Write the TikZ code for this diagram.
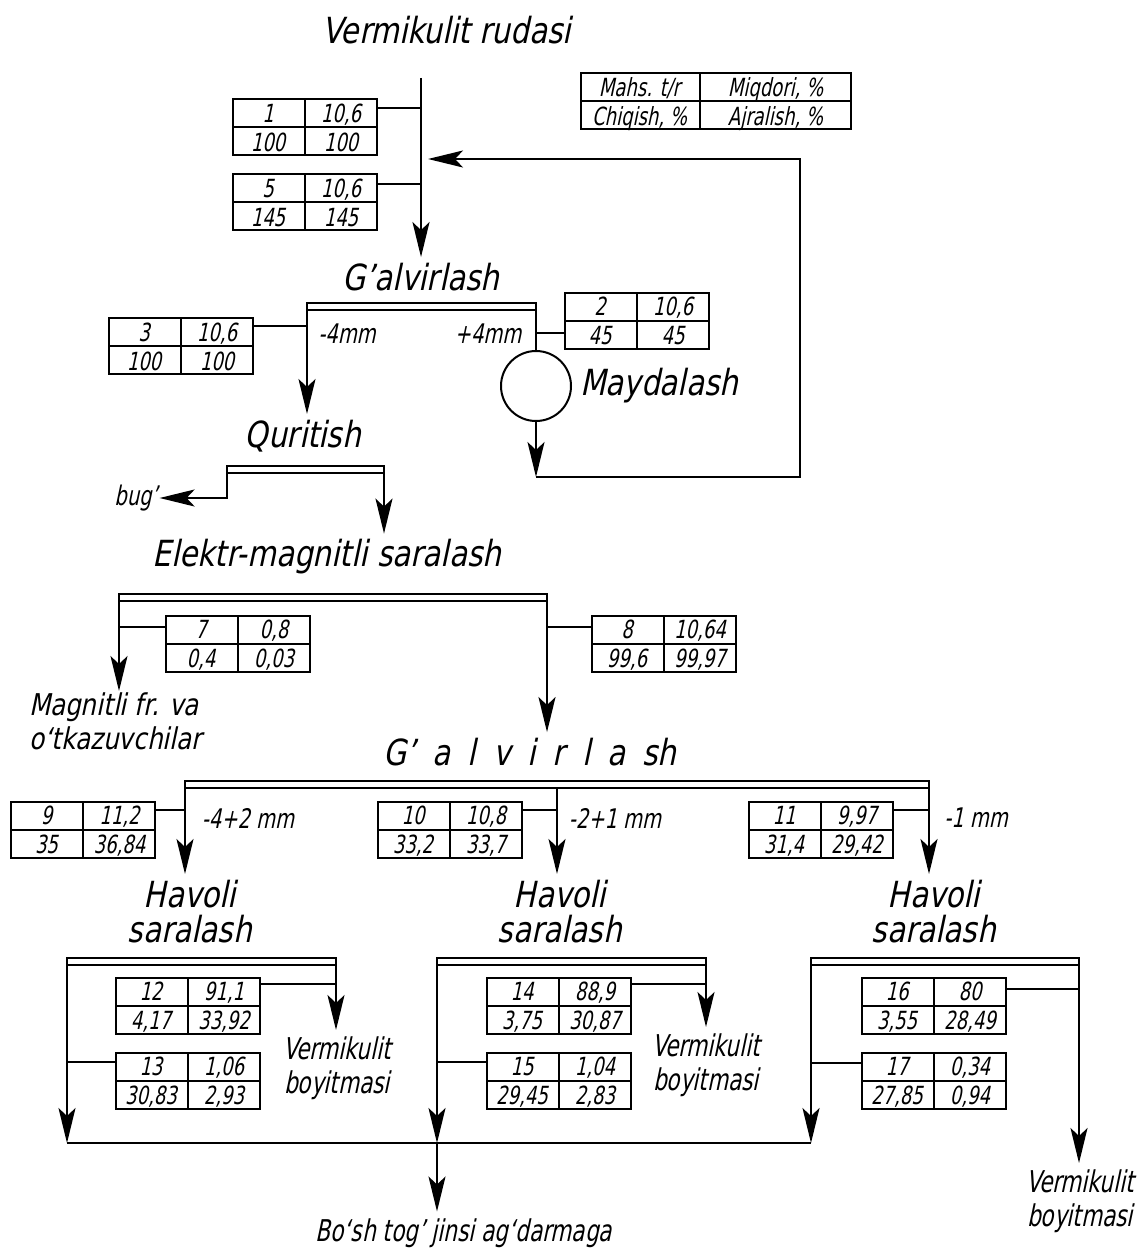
\documentclass[tikz,border=0pt]{standalone}
\usepackage{fontspec}
\usepackage{array}
\usetikzlibrary{arrows.meta,positioning}
\newfontfamily\gost{DejaVu Sans}[FakeStretch=0.82,FakeSlant=0.21]
\newfontfamily\gostn{DejaVu Sans}[FakeStretch=0.72,FakeSlant=0.21]
\newcommand{\stagefont}{\gost\fontsize{36}{35}\selectfont}
\newcommand{\magfont}{\gost\fontsize{30}{34}\selectfont}
\newcommand{\lblfont}{\gostn\fontsize{30}{34}\selectfont}
\newcommand{\smallfont}{\gostn\fontsize{27}{30}\selectfont}
\newcommand{\tblfont}{\gostn\fontsize{25}{28}\selectfont}
\setlength{\tabcolsep}{0pt}
\setlength{\arrayrulewidth}{2pt}
\renewcommand{\arraystretch}{0}
\newcommand{\rs}{\rule[-3.6pt]{0pt}{27pt}}
\newcommand{\nd}[1]{\raisebox{0pt}[\height][0pt]{#1}}
\newcommand{\cells}[4]{\begin{tabular}{@{}w{c}{71pt}|w{c}{71pt}@{}}\rs#1&#2\\\hline\rs#3&#4\end{tabular}}

\begin{document}
\begin{tikzpicture}[x=1pt,y=-1pt,
  every node/.style={inner sep=2pt},
  flow/.style={line width=2pt},
  arr/.style={flow,-{Stealth[length=35pt,width=17pt,inset=8pt]}},
  tbl/.style={draw,line width=2pt,inner sep=0pt,outer sep=0pt,font=\tblfont},
  bar/.style={draw,line width=2pt,inner sep=0pt,outer sep=0pt,minimum height=7pt},
  stage/.style={font=\stagefont,outer sep=4pt},
  lbl/.style={font=\lblfont,outer sep=5pt},
  small/.style={font=\smallfont,outer sep=0pt}]
\useasboundingbox (0,0) rectangle (1144,1252);

% ore feed
\node[stage] (ore) at (447,30) {Vermikulit rudasi};
\coordinate (top) at (421,78);
\node[tbl] (key) at (715.5,101.5) {\begin{tabular}{@{}w{c}{118pt}|w{c}{150pt}@{}}\rs\nd{Mahs. t/r} & \nd{Miqdori, \%}\\\hline\rs\nd{Chiqish, \%} & \nd{Ajralish, \%}\end{tabular}};
\node[tbl] (t1) at (304.5,127) {\cells{1}{10,6}{100}{100}};
\node[tbl] (t5) at (304.5,202) {\cells{5}{10,6}{145}{145}};
\node[stage] (scr) at (421,277) {G’alvirlash};
\draw[arr] (top) -- (top |- scr.north);
\draw[flow] (t1.east |- 0,108) -- (top |- 0,108);
\draw[flow] (t5.east |- 0,184) -- (top |- 0,184);

% screening 4 mm + crushing
\node[bar,minimum width=229pt] (b1) at (421.5,306.5) {};
\node[tbl] (t3) at (180.5,346) {\cells{3}{10,6}{100}{100}};
\node[tbl] (t2) at (636.5,320.5) {\cells{2}{10,6}{45}{45}};
\node[small] (fine) at (347,334) {-4mm};
\node[small] (coarse) at (488,334) {+4mm};
\node[circle,draw,line width=2pt,minimum size=70pt,inner sep=0pt] (mill) at (536,386) {};
\node[stage,right=2pt of mill] (millname) {Maydalash};
\node[stage] (dry) at (303,436) {Quritish};
\draw[flow] (t3.east |- 0,326) -- (b1.west |- 0,326);
\draw[flow] (b1.east |- 0,333) -- (t2.west |- 0,333);
\draw[arr] (b1.south west) -- (b1.south west |- dry.north);
\draw[flow] (b1.south east) -- (mill.north);
\coordinate (ret) at (800,477);
\coordinate (fb) at (428,159);
\draw[arr] (mill.south) -- (mill.south |- ret);
\draw[arr] (mill.south |- ret) -- (ret) -- (ret |- fb) -- (fb);

% drying
\node[bar,minimum width=157pt] (b2) at (305.5,469.5) {};
\node[small] (steam) at (136,498) {bug’};
\node[stage] (emag) at (327,557) {Elektr-magnitli saralash};
\draw[arr] (b2.south west) |- (steam.east);
\draw[arr] (b2.south east) -- (b2.south east |- emag.north);

% electromagnetic separation
\node[bar,minimum width=428pt] (b3) at (333,597.5) {};
\node[tbl] (t7) at (237.5,643.5) {\cells{7}{0,8}{0,4}{0,03}};
\node[tbl] (t8) at (663.5,643.5) {\cells{8}{10,64}{99,6}{99,97}};
\node[lbl,font=\magfont,anchor=north west,align=left,outer sep=0pt] (mag) at (27,691) {Magnitli fr. va\\o‘tkazuvchilar};
\node[stage] (scr2) at (530,752) {{\spaceskip=17pt G’ a l v i r l a sh}};
\draw[arr] (b3.south west) -- (b3.south west |- mag.north);
\draw[arr] (b3.south east) -- (b3.south east |- scr2.north);
\draw[flow] (b3.west |- 0,627) -- (t7.west |- 0,627);
\draw[flow] (b3.east |- 0,627) -- (t8.west |- 0,627);

% screening into three classes
\node[bar,minimum width=744pt] (b4) at (557,784) {};
\node[tbl] (t9) at (83,829.5) {\cells{9}{11,2}{35}{36,84}};
\node[tbl] (t10) at (449.5,829.5) {\cells{10}{10,8}{33,2}{33,7}};
\node[tbl] (t11) at (820.5,829.5) {\cells{11}{9,97}{31,4}{29,42}};
\node[small] (c1) at (248,818) {-4+2 mm};
\node[small] (c2) at (615,818) {-2+1 mm};
\node[small] (c3) at (976,818) {-1 mm};
\node[stage,anchor=north,align=center] (hv1) at (190,874) {Havoli\\saralash};
\node[stage,anchor=north,align=center] (hv2) at (560,874) {Havoli\\saralash};
\node[stage,anchor=north,align=center] (hv3) at (934,874) {Havoli\\saralash};
\draw[arr] (b4.south west) -- (b4.south west |- hv1.north);
\draw[arr] (b4.south) -- (b4.south |- hv2.north);
\draw[arr] (b4.south east) -- (b4.south east |- hv3.north);
\draw[flow] (t9.east |- 0,810) -- (b4.west |- 0,810);
\draw[flow] (t10.east |- 0,810) -- (b4.center |- 0,810);
\draw[flow] (t11.east |- 0,810) -- (b4.east |- 0,810);

% air separation
\node[bar,minimum width=269pt] (h1) at (201.5,961.5) {};
\node[bar,minimum width=269pt] (h2) at (571.5,961.5) {};
\node[bar,minimum width=268pt] (h3) at (945,961.5) {};
\node[tbl] (t12) at (187.5,1005.5) {\cells{12}{91,1}{4,17}{33,92}};
\node[tbl] (t13) at (187.5,1080.5) {\cells{13}{1,06}{30,83}{2,93}};
\node[tbl] (t14) at (558.5,1005.5) {\cells{14}{88,9}{3,75}{30,87}};
\node[tbl] (t15) at (558.5,1080.5) {\cells{15}{1,04}{29,45}{2,83}};
\node[tbl] (t16) at (933.5,1005.5) {\cells{16}{80}{3,55}{28,49}};
\node[tbl] (t17) at (933.5,1080.5) {\cells{17}{0,34}{27,85}{0,94}};
\node[lbl,anchor=north,align=center] (vb1) at (337,1030) {Vermikulit\\boyitmasi};
\node[lbl,anchor=north,align=center] (vb2) at (706,1027) {Vermikulit\\boyitmasi};
\node[lbl,anchor=north,align=center] (vb3) at (1080,1163) {Vermikulit\\boyitmasi};
\node[lbl] (dump) at (464,1233) {Bo‘sh tog’ jinsi ag‘darmaga};
\coordinate (col) at (h2.south west |- 0,1143);
\draw[flow] (t12.east |- 0,984) -- (h1.east |- 0,984);
\draw[flow] (h1.west |- 0,1062) -- (t13.west |- 0,1062);
\draw[flow] (t14.east |- 0,984) -- (h2.east |- 0,984);
\draw[flow] (h2.west |- 0,1062) -- (t15.west |- 0,1062);
\draw[flow] (t16.east |- 0,989) -- (h3.east |- 0,989);
\draw[flow] (h3.west |- 0,1063) -- (t17.west |- 0,1063);
\draw[arr] (h1.south east) -- (h1.south east |- vb1.north);
\draw[arr] (h2.south east) -- (h2.south east |- vb2.north);
\draw[arr] (h3.south east) -- (h3.south east |- vb3.north);
\draw[arr] (h1.south west) -- (h1.south west |- col);
\draw[arr] (h2.south west) -- (col);
\draw[arr] (h3.south west) -- (h3.south west |- col);
\draw[flow] (h1.south west |- col) -- (h3.south west |- col);
\draw[arr] (col) -- (col |- dump.north);
\end{tikzpicture}
\end{document}
